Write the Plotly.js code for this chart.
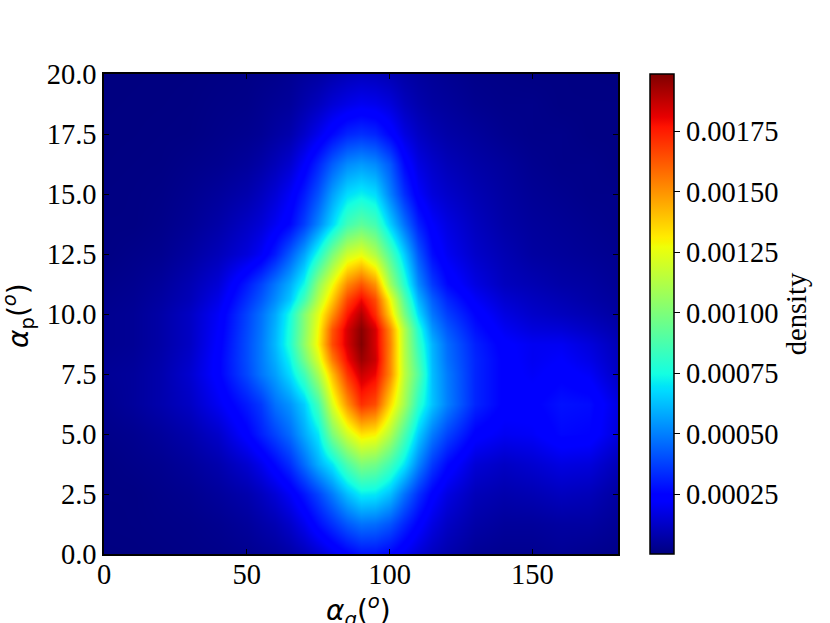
<!DOCTYPE html>
<html>
<head>
<meta charset="utf-8">
<script src="https://cdn.plot.ly/plotly-3.0.1.min.js"></script>
<style>html,body{margin:0;padding:0;background:#fff}</style>
</head>
<body>
<div id="myDiv" style="width:830px;height:623px"></div>
<script>
// alpha_q grid (deg) and alpha_p grid (deg)
var alphaQ = [0, 10, 20, 30, 40, 50, 55, 60, 65, 70, 75, 80, 85, 90, 95, 100, 105, 110, 115, 120, 130, 140, 150, 160, 170, 180];
var alphaP = [0, 1.25, 2.5, 3.75, 5, 6.25, 7.5, 8.125, 8.75, 9.375, 10, 10.625, 11.25, 12.5, 13.75, 15, 16.25, 17.5, 18.75, 20];

// density, in units of 1e-5, one row per alphaP
var density = [
  [0.5, 0.6, 1, 1.5, 2, 3, 4, 5, 7, 10, 14, 19, 24, 28, 28, 25, 20, 15, 11, 8, 4, 3, 3, 4, 3, 2],
  [0.8, 1, 1.5, 2, 3, 5, 7, 9, 13, 19, 27, 34, 42, 47, 46, 41, 32, 24, 17, 12, 7, 5, 5, 6, 6, 4],
  [1, 1, 2, 3, 5, 8, 11, 15, 21, 29, 38, 49, 62, 71, 70, 62, 47, 34, 24, 17, 10, 8, 9, 11, 10, 6],
  [1, 2, 3, 5, 8, 14, 19, 26, 34, 46, 59, 70, 88, 100, 97, 85, 70, 51, 36, 26, 15, 12, 14, 17, 16, 10],
  [2, 3, 5, 8, 13, 24, 31, 38, 46, 58, 70, 99, 120, 133, 130, 112, 88, 65, 49, 38, 24, 20, 21, 26, 25, 16],
  [3, 5, 8, 12, 20, 30, 36, 47, 54, 65, 86, 122, 150, 171, 165, 135, 109, 80, 63, 50, 32, 24, 24, 28, 27, 17],
  [4, 5, 8, 14, 24, 39, 48, 56, 68, 85, 110, 141, 170, 186, 180, 152, 115, 90, 62, 49, 32, 24, 21, 24, 21, 12],
  [3.5, 4.5, 7.5, 13, 24, 40, 49, 59, 73, 97, 122, 155, 179, 194, 186, 152, 114, 86, 61, 47, 32, 24, 20, 22, 18, 11],
  [3, 4, 7, 12, 23, 40, 49, 61, 78, 104, 130, 165, 184, 198, 184, 153, 113, 82, 60, 46, 31, 23, 20, 20, 16, 10],
  [3, 4, 7, 12, 22, 39, 48, 60, 77, 102, 128, 163, 184, 197, 184, 151, 112, 78, 54, 42, 28, 20, 16, 15, 12, 8],
  [3, 4, 7, 12, 21, 38, 47, 58, 75, 101, 124, 150, 176, 190, 172, 136, 99, 68, 48, 37, 25, 17, 13, 11, 9, 6],
  [2.5, 3.5, 6, 10, 18, 34, 42, 52, 64, 85, 113, 138, 166, 179, 165, 127, 90, 60, 43, 32, 21, 14, 11, 9, 7, 5],
  [2, 3, 5, 9, 15, 30, 38, 48, 59, 74, 104, 127, 152, 163, 150, 108, 79, 52, 36, 26, 17, 11, 9, 7, 6, 4],
  [1, 2, 3, 6, 10, 16, 21, 30, 43, 57, 76, 99, 119, 125, 112, 88, 65, 42, 27, 20, 13, 9, 6, 5, 4, 3],
  [1, 1, 2, 4, 7, 12, 15, 20, 26, 37, 51, 67, 85, 92, 86, 65, 47, 31, 22, 17, 11, 7, 5, 4, 3, 2],
  [0.8, 1, 1.5, 3, 5, 8, 11, 15, 21, 30, 41, 56, 68, 72, 68, 50, 34, 22, 16, 13, 9, 6, 4, 3, 2, 2],
  [0.6, 0.8, 1, 2, 3, 5, 7, 10, 14, 22, 32, 43, 52, 55, 52, 42, 26, 17, 13, 10, 7, 5, 3, 2, 2, 1],
  [0.5, 0.6, 0.8, 1, 2, 3, 4, 6, 8, 13, 19, 26, 32, 34, 32, 25, 17, 12, 9, 7, 5, 3, 2, 2, 1, 1],
  [0.4, 0.5, 0.6, 0.8, 1.5, 2, 3, 4, 5, 8, 11, 15, 18, 20, 19, 16, 11, 8, 6, 5, 3, 2, 2, 1, 1, 1],
  [0.3, 0.4, 0.5, 0.6, 1, 1.5, 2, 2.5, 3.5, 5, 6, 8, 10, 11, 10.5, 9, 7, 5.5, 4.5, 3.5, 2, 1.5, 1, 1, 0.8, 0.6]
];

var xTicks = [0, 50, 100, 150];
var yTicks = [0, 2.5, 5, 7.5, 10, 12.5, 15, 17.5, 20];
var yTickText = ['0.0', '2.5', '5.0', '7.5', '10.0', '12.5', '15.0', '17.5', '20.0'];
var barTicks = [0.00025, 0.0005, 0.00075, 0.001, 0.00125, 0.0015, 0.00175];

// matplotlib jet
var jet = [
  [0, 'rgb(0,0,127)'], [0.11, 'rgb(0,0,255)'], [0.125, 'rgb(0,0,255)'],
  [0.34, 'rgb(0,219,255)'], [0.35, 'rgb(0,229,247)'], [0.375, 'rgb(20,255,226)'],
  [0.64, 'rgb(239,255,8)'], [0.65, 'rgb(247,245,0)'], [0.66, 'rgb(255,236,0)'],
  [0.89, 'rgb(255,19,0)'], [0.91, 'rgb(232,0,0)'], [1, 'rgb(127,0,0)']
];

var serif = 'Liberation Serif';

var data = [{
  type: 'heatmap',
  x: alphaQ,
  y: alphaP,
  z: density.map(function (row) { return row.map(function (v) { return v * 1e-5; }); }),
  zmin: 0.000002,
  zmax: 0.001986,
  zsmooth: 'best',
  colorscale: jet,
  colorbar: {
    x: 1.0621, xanchor: 'left', xpad: 0,
    y: 0, yanchor: 'bottom', ypad: 0,
    len: 1, thickness: 24,
    outlinewidth: 1.5, outlinecolor: '#000',
    ticks: 'outside', ticklen: 6, tickwidth: 1.2, tickcolor: '#000',
    tickmode: 'array',
    tickvals: barTicks,
    ticktext: barTicks.map(function (v) { return v.toFixed(5); }),
    tickfont: {family: serif, size: 28.5, color: '#000'},
    title: {text: 'density', side: 'right', font: {family: serif, size: 28.5, color: '#000'}}
  }
}];

var layout = {
  width: 830,
  height: 623,
  margin: {l: 104, r: 212, t: 74, b: 69},
  paper_bgcolor: '#fff',
  plot_bgcolor: '#fff',
  font: {family: serif, color: '#000'},
  xaxis: {
    range: [0, 180],
    tickmode: 'array', tickvals: xTicks, ticktext: xTicks.map(String),
    ticks: 'inside', ticklen: 5, tickwidth: 1.2, tickcolor: '#000',
    ticklabelstandoff: -6,
    showline: true, linecolor: '#000', linewidth: 1.5, mirror: 'ticks',
    showgrid: false, zeroline: false,
    tickfont: {family: serif, size: 28.5, color: '#000'}
  },
  yaxis: {
    range: [0, 20],
    tickmode: 'array', tickvals: yTicks, ticktext: yTickText,
    ticks: 'inside', ticklen: 5, tickwidth: 1.2, tickcolor: '#000',
    showline: true, linecolor: '#000', linewidth: 1.5, mirror: 'ticks',
    showgrid: false, zeroline: false,
    tickfont: {family: serif, size: 28.5, color: '#000'}
  },
  // axis titles as annotations: standoff does not move them with a fixed margin
  annotations: [
    {
      text: '<i>α</i><sub><i>q</i></sub>(<sup><i>o</i></sup>)',
      xref: 'paper', yref: 'paper', x: 0.495, y: 0, yanchor: 'middle', yshift: -56,
      showarrow: false, font: {family: 'DejaVu Sans', size: 28, color: '#000'}
    },
    {
      text: '<i>α</i><sub>p</sub>(<sup><i>o</i></sup>)',
      xref: 'paper', yref: 'paper', x: 0, y: 0.5, xanchor: 'center', xshift: -86, yshift: -2,
      textangle: -90,
      showarrow: false, font: {family: 'DejaVu Sans', size: 28, color: '#000'}
    }
  ]
};

Plotly.newPlot('myDiv', data, layout, {displayModeBar: false});
</script>
</body>
</html>
